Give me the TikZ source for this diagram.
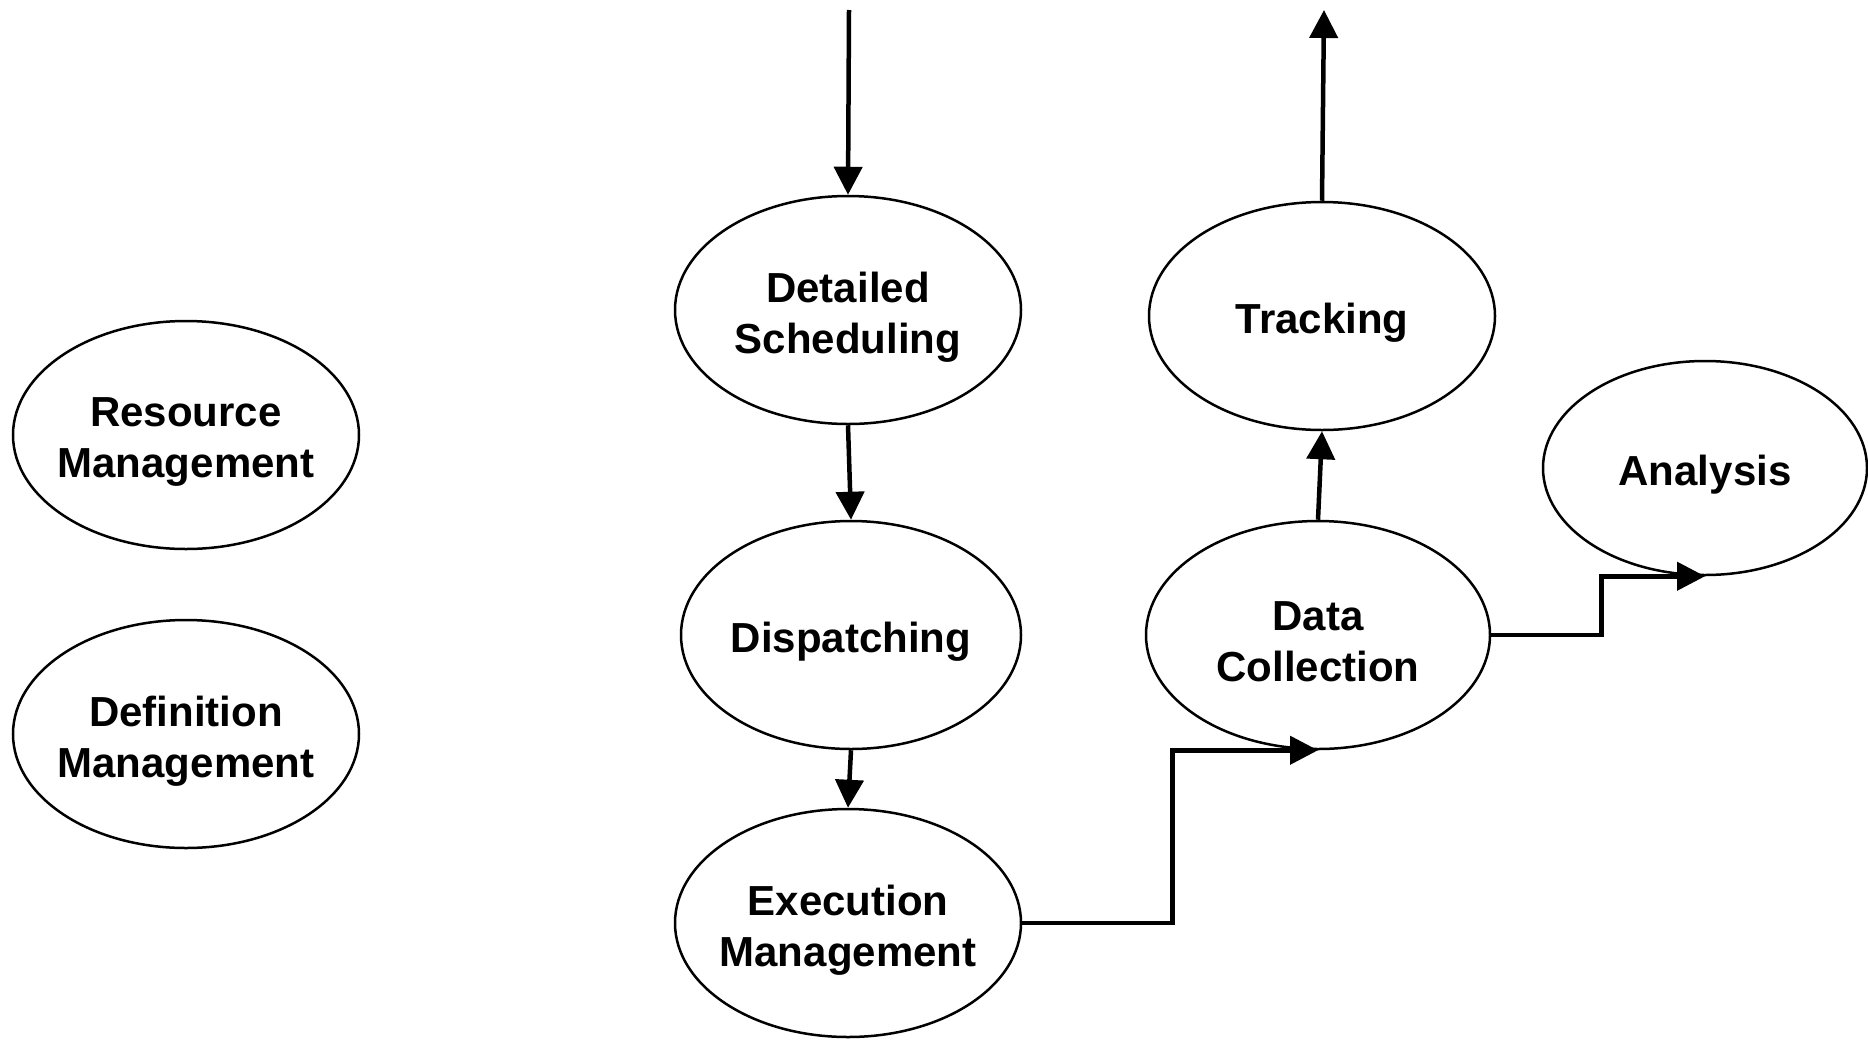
\documentclass[tikz,border=0pt]{standalone}
\usepackage{fontspec}
\setmainfont{Liberation Sans}
\usetikzlibrary{shapes.geometric,arrows.meta}
\begin{document}
\begin{tikzpicture}[x=1pt,y=-1pt,
  ell/.style={ellipse,draw,line width=2.5pt,minimum width=346pt,minimum height=228pt,inner sep=0pt},
  smallell/.style={ellipse,draw,line width=2.5pt,minimum width=324pt,minimum height=214pt,inner sep=0pt},
  lbl/.style={align=center,inner sep=0pt,font=\fontsize{42}{51}\selectfont\bfseries},
  flow/.style={line width=4.5pt,-{Triangle[length=28pt,width=28pt]}}]
\useasboundingbox (0,0) rectangle (1868,1039);
% ellipses
\node[ell] (rm) at (186,435) {};
\node[ell] (dm) at (186,734) {};
\node[ell] (ds) at (848,310) {};
\node[ell,minimum width=340pt] (dp) at (851,635) {};
\node[ell] (ex) at (848,923) {};
\node[ell] (tr) at (1322,316) {};
\node[ell,minimum width=344pt] (dc) at (1318,635) {};
\node[smallell] (an) at (1705,468) {};
% labels
\node[lbl] (rmt) at ([yshift=-7pt]rm.center) {Resource\\Management};
\node[lbl] (dmt) at ([yshift=-7pt]dm.center) {Definition\\Management};
\node[lbl] (dst) at ([yshift=-7pt]ds.center) {Detailed\\Scheduling};
\node[lbl] (dpt) at ([yshift=-7pt]dp.center) {Dispatching};
\node[lbl] (ext) at ([yshift=-7pt]ex.center) {Execution\\Management};
\node[lbl] (trt) at ([yshift=-7pt]tr.center) {Tracking};
\node[lbl] (dct) at ([yshift=-7pt]dc.center) {Data\\Collection};
\node[lbl] (ant) at ([yshift=-7pt]an.center) {Analysis};
% connectors
\coordinate (intop) at (849,10);
\coordinate (outtop) at (1324,10);
\draw[flow] (intop) -- (ds.north);
\draw[flow] (ds.south) -- (dp.north);
\draw[flow] (dp.south) -- (ex.north);
\draw[flow] (ex.east) -- ++(150,0) |- (dc.south);
\draw[flow] (dc.north) -- (tr.south);
\draw[flow] (tr.north) -- (outtop);
\draw[flow] (dc.east) -- ++(110,0) |- (an.south);
\end{tikzpicture}
\end{document}
